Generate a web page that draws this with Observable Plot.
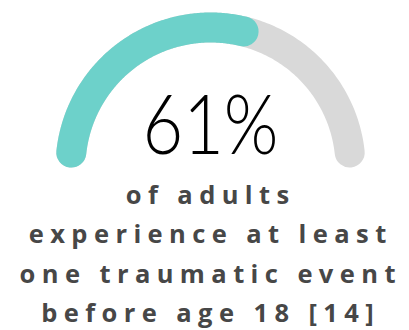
<!DOCTYPE html>
<html><head><meta charset="utf-8">
<script src="https://cdn.jsdelivr.net/npm/d3@7"></script>
<script src="https://cdn.jsdelivr.net/npm/@observablehq/plot@0.6"></script>
<style>body{margin:0;background:#fff}</style></head>
<body><div id="chart"></div>
<script>
const value = 61;
const maxValue = 100;
const valueLabel = "61%";
const captionLines = ["of adults", "experience at least", "one traumatic event", "before age 18 [14]"];
const segments = ["remaining", "filled"];
const segmentColors = ["#d9d9d9", "#6dd1ca"];

const strokeW = 30, radiusPx = 140;
const capAngle = (strokeW / 2) / radiusPx;

function arc(seg, v) {
  const a0 = Math.PI - capAngle;
  const a1 = Math.PI - (v / maxValue) * Math.PI + capAngle;
  const n = 180, pts = [];
  for (let i = 0; i <= n; i++) {
    const a = a0 + (a1 - a0) * i / n;
    pts.push({seg, x: Math.cos(a), y: Math.sin(a)});
  }
  return pts;
}
const arcData = [...arc(segments[0], maxValue), ...arc(segments[1], value)];

// caption style
const capFont = "'Open Sans', sans-serif", capSize = 25.5, capWeight = 700;
const ctx = document.createElement("canvas").getContext("2d");
ctx.font = `${capWeight} ${capSize}px ${capFont}`;
const refLine = captionLines[2];
const targetWidth = 376;
const ls = (targetWidth - ctx.measureText(refLine).width) / (refLine.length - 1);

const baselines = [203, 242.5, 282, 321.5];
const captionMarks = captionLines.map((line, i) =>
  Plot.text([line], {x: () => 0, text: d => d, frameAnchor: "top", lineAnchor: "bottom", dy: baselines[i],
    dx: ls / 2 - 3, fontSize: capSize, fontWeight: capWeight, fontFamily: capFont, fill: "#474747",
    className: "caption"}));

const chart = Plot.plot({
  width: 409, height: 330,
  margin: 0,
  style: {background: "#fff"},
  x: {domain: [-1, 1], range: [70, 350], axis: null},
  y: {domain: [-1, 1], range: [307, 27], axis: null},
  color: {domain: segments, range: segmentColors},
  marks: [
    Plot.line(arcData, {x: "x", y: "y", z: "seg", stroke: "seg", strokeWidth: strokeW, strokeLinecap: "round"}),
    Plot.text([valueLabel], {x: () => 0, text: d => d, frameAnchor: "top", lineAnchor: "bottom", dy: 153,
      fontSize: 82, fontWeight: 300, fontFamily: "Lato, 'Open Sans', sans-serif", fill: "#000", className: "bignum"}),
    ...captionMarks
  ]
});
chart.querySelectorAll(".caption text").forEach(t => t.style.letterSpacing = ls + "px");
chart.querySelectorAll(".bignum text").forEach(t => {
  t.setAttribute("textLength", 136);
  t.setAttribute("lengthAdjust", "spacingAndGlyphs");
});
document.getElementById("chart").appendChild(chart);
</script>
</body></html>
